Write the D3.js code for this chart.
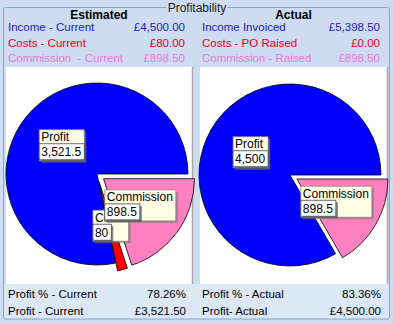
<!DOCTYPE html>
<html><head><meta charset="utf-8">
<script src="https://cdn.jsdelivr.net/npm/d3@7"></script>
<style>html,body{margin:0;padding:0;background:#cddcf0;}svg{display:block;}</style>
</head><body>
<script>
const categories = ["Commission", "Costs", "Profit"];
const estimatedValues = [898.5, 80, 3521.5];
const actualValues = [898.5, 0, 4500];
const estimatedHeader = ["Income - Current", "Costs - Current", "Commission  - Current"];
const estimatedHeaderValues = ["£4,500.00", "£80.00", "£898.50"];
const actualHeader = ["Income Invoiced", "Costs - PO Raised", "Commission - Raised"];
const actualHeaderValues = ["£5,398.50", "£0.00", "£898.50"];
const estimatedFooter = ["Profit % - Current", "Profit - Current"];
const estimatedFooterValues = ["78.26%", "£3,521.50"];
const actualFooter = ["Profit % - Actual", "Profit- Actual"];
const actualFooterValues = ["83.36%", "£4,500.00"];

const W = 393, H = 324;
const font = "'Liberation Sans', Arial, sans-serif";
const rowColors = ["#1c1cb0", "#e0001c", "#e878e0"];
const sliceColors = d3.scaleOrdinal().domain(categories).range(["#ff80c0", "#ff0000", "#0000ff"]);
const exploded = {Commission: true, Costs: true, Profit: false};

const svg = d3.select("body").append("svg").attr("width", W).attr("height", H);
const defs = svg.append("defs");

svg.append("rect").attr("width", W).attr("height", H).attr("fill", "#cddcf0");
svg.append("rect").attr("x", 4).attr("y", 284).attr("width", 385).attr("height", 35).attr("fill", "#dce8f6");

// group box
svg.append("rect").attr("x", 3.5).attr("y", 7.5).attr("width", 386).attr("height", 311.5)
  .attr("rx", 2).attr("fill", "none").attr("stroke", "#86a6d0").attr("stroke-width", 1);
const title = svg.append("text").attr("x", 197).attr("y", 12).attr("text-anchor", "middle")
  .attr("font-family", font).attr("font-size", 12).attr("fill", "#222").text("Profitability");
const tb = title.node().getBBox();
svg.insert("rect", "text").attr("x", tb.x - 1).attr("y", 4).attr("width", tb.width + 2).attr("height", 7).attr("fill", "#cddcf0");

function panel(x0, x1, heading, hLabels, hValues, fLabels, fValues, values, cx, cy) {
  // header
  svg.append("text").attr("x", (x0 + x1) / 2).attr("y", 19).attr("text-anchor", "middle")
    .attr("font-family", font).attr("font-size", 12).attr("font-weight", "bold").attr("fill", "#000").text(heading);
  hLabels.forEach((l, i) => {
    svg.append("text").attr("x", x0 + 2).attr("y", 31 + i * 15.7).attr("font-family", font)
      .attr("font-size", 11.5).attr("fill", rowColors[i]).attr("xml:space", "preserve").text(l);
    svg.append("text").attr("x", x1 - 7).attr("y", 31 + i * 15.7).attr("text-anchor", "end")
      .attr("font-family", font).attr("font-size", 11.5).attr("fill", rowColors[i]).text(hValues[i]);
  });
  // white plot panel
  svg.append("rect").attr("x", x0).attr("y", 67).attr("width", x1 - x0).attr("height", 217).attr("fill", "#fff");
  svg.append("line").attr("x1", x1 + 0.5).attr("x2", x1 + 0.5).attr("y1", 67).attr("y2", 284)
    .attr("stroke", "#a8a8a8").attr("stroke-width", 1.5);
  // footer
  fLabels.forEach((l, i) => {
    svg.append("text").attr("x", x0 + 2).attr("y", 298 + i * 16.5).attr("font-family", font)
      .attr("font-size", 11.5).attr("fill", "#000").text(l);
    svg.append("text").attr("x", x1 - 6).attr("y", 298 + i * 16.5).attr("text-anchor", "end")
      .attr("font-family", font).attr("font-size", 11.5).attr("fill", "#000").text(fValues[i]);
  });

  // pie
  const r = 91;
  const pie = d3.pie().sort(null).value(d => d.v).startAngle(Math.PI / 2).endAngle(Math.PI / 2 + 2 * Math.PI);
  const data = categories.map((c, i) => ({c, v: values[i]}));
  const arcs = pie(data).filter(a => a.data.v > 0);
  const arc = d3.arc().innerRadius(0).outerRadius(r);
  const off = 8;
  const shift = a => {
    if (!exploded[a.data.c]) return [0, 0];
    const m = (a.startAngle + a.endAngle) / 2;
    return [Math.sin(m) * off, -Math.cos(m) * off];
  };
  const g = svg.append("g").attr("transform", `translate(${cx},${cy})`);
  g.selectAll("path").data(arcs).join("path")
    .attr("transform", a => `translate(${shift(a)})`)
    .attr("d", arc).attr("fill", a => sliceColors(a.data.c))
    .attr("stroke", "#000").attr("stroke-width", 0.8);

  // labels: draw Costs first, then Commission, then Profit
  const labelArc = d3.arc().innerRadius(r * 0.5).outerRadius(r * 0.5);
  const order = ["Costs", "Commission", "Profit"];
  const fmt = d3.format(",");
  order.forEach(cat => {
    const a = arcs.find(x => x.data.c === cat);
    if (!a) return;
    const [sx, sy] = shift(a);
    const [lx, ly] = labelArc.centroid(a);
    const lg = g.append("g");
    const t1 = lg.append("text").attr("font-family", font).attr("font-size", 12).attr("fill", "#000").text(cat);
    const t2 = lg.append("text").attr("font-family", font).attr("font-size", 12).attr("fill", "#000").text(fmt(a.data.v));
    const w1 = t1.node().getComputedTextLength(), w2 = t2.node().getComputedTextLength();
    const bw = Math.max(w1, w2) + 5;
    const vw = w2 + 5;
    const bh = 31;
    const x = lx + sx - bw / 2, y = ly + sy - bh / 2;
    // outer box shadow + box
    lg.insert("rect", "text").attr("x", x + 2).attr("y", y + 2).attr("width", bw).attr("height", bh).attr("fill", "#777").attr("opacity", 0.6);
    lg.insert("rect", "text").attr("x", x).attr("y", y).attr("width", bw).attr("height", bh)
      .attr("fill", "#ffffe6").attr("stroke", "#8a8a80").attr("stroke-width", 0.8);
    // value box
    lg.insert("rect", "text").attr("x", x + 2).attr("y", y + 16).attr("width", vw).attr("height", 16).attr("fill", "#555").attr("opacity", 0.7);
    lg.insert("rect", "text").attr("x", x).attr("y", y + 14).attr("width", vw).attr("height", 16)
      .attr("fill", "#fff").attr("stroke", "#444").attr("stroke-width", 0.8);
    t1.attr("x", x + 2).attr("y", y + 11.5);
    t2.attr("x", x + 2).attr("y", y + 26.5);
  });
}

panel(6, 192, "Estimated", estimatedHeader, estimatedHeaderValues, estimatedFooter, estimatedFooterValues, estimatedValues, 97, 174);
panel(200, 387, "Actual", actualHeader, actualHeaderValues, actualFooter, actualFooterValues, actualValues, 290, 175);
</script>
</body></html>
